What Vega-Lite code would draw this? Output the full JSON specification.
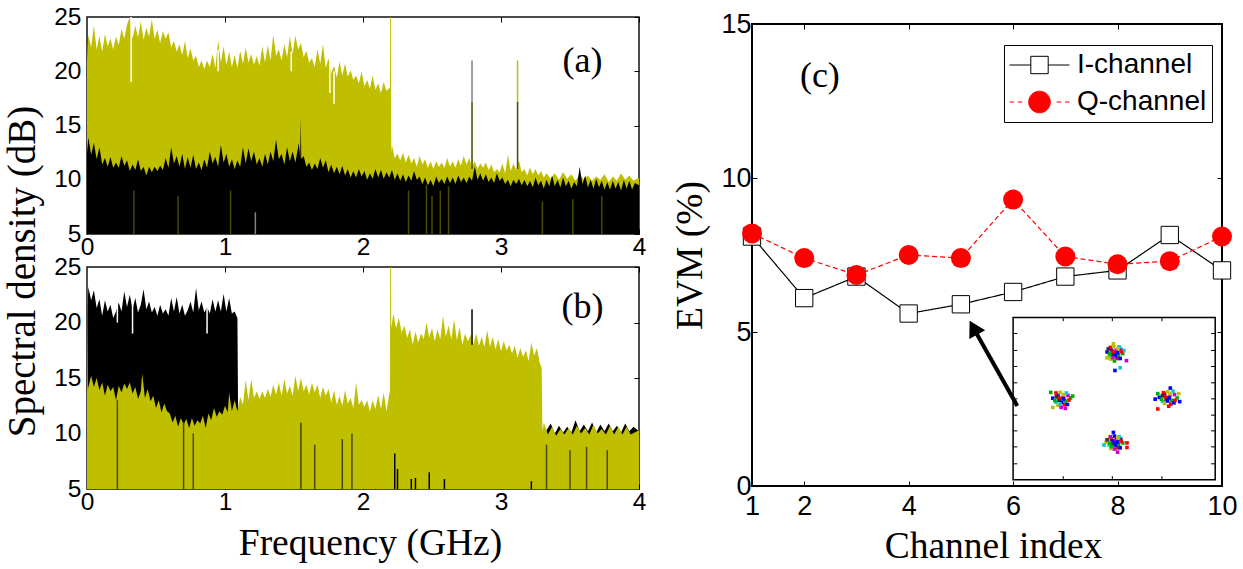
{"$schema":"https://vega.github.io/schema/vega-lite/v6.json","background":"white","padding":{"left":2,"top":3,"right":0,"bottom":0},"bounds":"flush","spacing":665,
"config":{"view":{"stroke":"#111","strokeWidth":1.5},"axis":{"grid":false,"domain":false,"tickColor":"black","labelFont":"Liberation Sans","labelFontSize":24.5,"labelColor":"black","labelFlush":false,"titleFont":"Liberation Serif","titleFontSize":37.5,"titleFontWeight":"normal","titleColor":"black"}},
"datasets":{
"ay":[{"f":0,"d":21},{"f":0.01,"d":23.4},{"f":0.03,"d":22.2},{"f":0.05,"d":24.2},{"f":0.07,"d":22},{"f":0.09,"d":23.2},{"f":0.11,"d":21.8},{"f":0.13,"d":23.4},{"f":0.15,"d":22.3},{"f":0.17,"d":23},{"f":0.19,"d":22},{"f":0.21,"d":23.2},{"f":0.23,"d":22.4},{"f":0.25,"d":23.9},{"f":0.27,"d":23},{"f":0.29,"d":24.3},{"f":0.31,"d":25},{"f":0.33,"d":23},{"f":0.35,"d":24.2},{"f":0.37,"d":23.1},{"f":0.39,"d":24.6},{"f":0.41,"d":22.9},{"f":0.43,"d":24},{"f":0.45,"d":23.2},{"f":0.47,"d":24.8},{"f":0.49,"d":23},{"f":0.51,"d":23.8},{"f":0.53,"d":22.6},{"f":0.55,"d":23.7},{"f":0.57,"d":23},{"f":0.59,"d":23.6},{"f":0.61,"d":22.2},{"f":0.63,"d":22.8},{"f":0.65,"d":21.8},{"f":0.67,"d":22.5},{"f":0.69,"d":21.5},{"f":0.71,"d":22.8},{"f":0.73,"d":21.2},{"f":0.75,"d":22.1},{"f":0.77,"d":21},{"f":0.79,"d":21.4},{"f":0.81,"d":20.4},{"f":0.83,"d":21},{"f":0.85,"d":20.2},{"f":0.87,"d":21},{"f":0.89,"d":20.4},{"f":0.91,"d":21.6},{"f":0.93,"d":20.3},{"f":0.95,"d":22.8},{"f":0.97,"d":20.8},{"f":0.99,"d":22.3},{"f":1.01,"d":20.6},{"f":1.03,"d":21.8},{"f":1.05,"d":20.4},{"f":1.07,"d":21.5},{"f":1.09,"d":20.3},{"f":1.11,"d":21.9},{"f":1.13,"d":20.7},{"f":1.15,"d":22.2},{"f":1.17,"d":20.8},{"f":1.19,"d":21.6},{"f":1.21,"d":20.6},{"f":1.23,"d":21.4},{"f":1.25,"d":20.5},{"f":1.27,"d":22.3},{"f":1.29,"d":20.8},{"f":1.31,"d":22.4},{"f":1.33,"d":21},{"f":1.35,"d":23.4},{"f":1.37,"d":21.4},{"f":1.39,"d":22},{"f":1.41,"d":21},{"f":1.43,"d":22.5},{"f":1.45,"d":21.3},{"f":1.47,"d":23.2},{"f":1.49,"d":21.6},{"f":1.51,"d":23.3},{"f":1.53,"d":22},{"f":1.55,"d":22.6},{"f":1.57,"d":21.3},{"f":1.59,"d":21.9},{"f":1.61,"d":20.8},{"f":1.63,"d":21.2},{"f":1.65,"d":20.4},{"f":1.67,"d":22},{"f":1.69,"d":20.7},{"f":1.71,"d":22.5},{"f":1.73,"d":20.3},{"f":1.75,"d":21.2},{"f":1.77,"d":19.8},{"f":1.79,"d":20.5},{"f":1.81,"d":19.4},{"f":1.83,"d":20.9},{"f":1.85,"d":19.6},{"f":1.87,"d":20.7},{"f":1.89,"d":19.5},{"f":1.91,"d":20.1},{"f":1.93,"d":19.2},{"f":1.95,"d":19.6},{"f":1.97,"d":18.9},{"f":1.99,"d":20},{"f":2.01,"d":18.6},{"f":2.03,"d":19.2},{"f":2.05,"d":18.4},{"f":2.07,"d":19.6},{"f":2.09,"d":18.3},{"f":2.11,"d":18.9},{"f":2.13,"d":18},{"f":2.15,"d":19},{"f":2.17,"d":18.2},{"f":2.195,"d":18.5},{"f":2.197,"d":25},{"f":2.203,"d":25},{"f":2.205,"d":12.5},{"f":2.21,"d":13.2},{"f":2.23,"d":12},{"f":2.25,"d":12.4},{"f":2.27,"d":11.8},{"f":2.29,"d":12.5},{"f":2.31,"d":11.6},{"f":2.33,"d":12.3},{"f":2.35,"d":11.5},{"f":2.37,"d":12},{"f":2.39,"d":11.2},{"f":2.41,"d":12.2},{"f":2.43,"d":11.4},{"f":2.45,"d":11.9},{"f":2.47,"d":11.1},{"f":2.49,"d":11.7},{"f":2.51,"d":11},{"f":2.53,"d":11.7},{"f":2.55,"d":11.2},{"f":2.57,"d":11.6},{"f":2.59,"d":11.1},{"f":2.61,"d":12},{"f":2.63,"d":11.2},{"f":2.65,"d":11.7},{"f":2.67,"d":11.1},{"f":2.69,"d":11.9},{"f":2.71,"d":11.3},{"f":2.73,"d":12.2},{"f":2.75,"d":11.4},{"f":2.77,"d":12},{"f":2.79,"d":11.2},{"f":2.81,"d":11.7},{"f":2.83,"d":11},{"f":2.85,"d":11.5},{"f":2.87,"d":11.1},{"f":2.89,"d":11.6},{"f":2.91,"d":10.9},{"f":2.93,"d":11.4},{"f":2.95,"d":10.7},{"f":2.97,"d":11},{"f":2.99,"d":10.7},{"f":3.01,"d":11.5},{"f":3.03,"d":10.6},{"f":3.05,"d":12.3},{"f":3.07,"d":10.8},{"f":3.09,"d":11.5},{"f":3.11,"d":10.9},{"f":3.13,"d":11.8},{"f":3.15,"d":10.7},{"f":3.17,"d":11},{"f":3.19,"d":10.4},{"f":3.21,"d":11.1},{"f":3.23,"d":10.5},{"f":3.25,"d":11},{"f":3.27,"d":10.4},{"f":3.29,"d":10.8},{"f":3.31,"d":10.2},{"f":3.33,"d":10.6},{"f":3.36,"d":10.1},{"f":3.39,"d":10.6},{"f":3.42,"d":10},{"f":3.45,"d":10.7},{"f":3.48,"d":10.1},{"f":3.51,"d":10.5},{"f":3.54,"d":9.9},{"f":3.57,"d":10.5},{"f":3.6,"d":10},{"f":3.63,"d":10.4},{"f":3.66,"d":9.9},{"f":3.69,"d":10.3},{"f":3.72,"d":10},{"f":3.75,"d":10.5},{"f":3.78,"d":9.8},{"f":3.81,"d":10.3},{"f":3.84,"d":9.9},{"f":3.87,"d":10.6},{"f":3.9,"d":10},{"f":3.93,"d":10.4},{"f":3.96,"d":9.9},{"f":4,"d":10.2}],
"ak":[{"f":0,"d":12.5},{"f":0.01,"d":13.9},{"f":0.03,"d":12.3},{"f":0.05,"d":13.4},{"f":0.07,"d":11.9},{"f":0.09,"d":13},{"f":0.11,"d":11.4},{"f":0.13,"d":12},{"f":0.15,"d":11.2},{"f":0.17,"d":12.1},{"f":0.19,"d":11.1},{"f":0.21,"d":11.6},{"f":0.23,"d":11.1},{"f":0.25,"d":12.2},{"f":0.27,"d":11.3},{"f":0.29,"d":11.8},{"f":0.31,"d":10.8},{"f":0.33,"d":11.4},{"f":0.35,"d":10.9},{"f":0.37,"d":11.9},{"f":0.39,"d":10.8},{"f":0.41,"d":11.2},{"f":0.43,"d":10.4},{"f":0.45,"d":11.2},{"f":0.47,"d":10.7},{"f":0.49,"d":11.2},{"f":0.51,"d":10.8},{"f":0.53,"d":11.3},{"f":0.55,"d":10.9},{"f":0.57,"d":12},{"f":0.59,"d":11.1},{"f":0.61,"d":13},{"f":0.63,"d":11.5},{"f":0.65,"d":12.2},{"f":0.67,"d":11.2},{"f":0.69,"d":12.4},{"f":0.71,"d":11},{"f":0.73,"d":12.1},{"f":0.75,"d":11.1},{"f":0.77,"d":12.3},{"f":0.79,"d":11},{"f":0.81,"d":11.6},{"f":0.83,"d":10.9},{"f":0.85,"d":11.9},{"f":0.87,"d":11.1},{"f":0.89,"d":12.6},{"f":0.91,"d":11.5},{"f":0.93,"d":12.1},{"f":0.95,"d":11.2},{"f":0.97,"d":13.2},{"f":0.99,"d":11.6},{"f":1.01,"d":12.4},{"f":1.03,"d":11.2},{"f":1.05,"d":11.9},{"f":1.07,"d":11},{"f":1.09,"d":11.8},{"f":1.11,"d":11.2},{"f":1.13,"d":13},{"f":1.15,"d":11.5},{"f":1.17,"d":12.9},{"f":1.19,"d":11.7},{"f":1.21,"d":12.6},{"f":1.23,"d":11.4},{"f":1.25,"d":12},{"f":1.27,"d":11.2},{"f":1.29,"d":12.4},{"f":1.31,"d":11.4},{"f":1.33,"d":12.6},{"f":1.35,"d":11.7},{"f":1.37,"d":13.7},{"f":1.39,"d":11.9},{"f":1.41,"d":12.4},{"f":1.43,"d":11.4},{"f":1.45,"d":13},{"f":1.47,"d":11.7},{"f":1.49,"d":12.6},{"f":1.51,"d":11.6},{"f":1.535,"d":13.4},{"f":1.545,"d":12},{"f":1.549,"d":15.7},{"f":1.553,"d":11.9},{"f":1.57,"d":12.2},{"f":1.59,"d":11.2},{"f":1.61,"d":11.6},{"f":1.63,"d":10.9},{"f":1.65,"d":11.5},{"f":1.67,"d":11},{"f":1.69,"d":12},{"f":1.71,"d":11.1},{"f":1.73,"d":11.8},{"f":1.75,"d":10.7},{"f":1.77,"d":11.4},{"f":1.79,"d":10.6},{"f":1.81,"d":11.2},{"f":1.83,"d":10.5},{"f":1.85,"d":11.3},{"f":1.87,"d":10.4},{"f":1.89,"d":11},{"f":1.91,"d":10.2},{"f":1.93,"d":10.8},{"f":1.95,"d":10.2},{"f":1.97,"d":11},{"f":1.99,"d":10.3},{"f":2.01,"d":10.8},{"f":2.03,"d":10},{"f":2.05,"d":10.6},{"f":2.07,"d":10.1},{"f":2.09,"d":11},{"f":2.11,"d":10.2},{"f":2.13,"d":10.9},{"f":2.15,"d":10.1},{"f":2.17,"d":10.7},{"f":2.19,"d":10.2},{"f":2.21,"d":10.9},{"f":2.23,"d":10},{"f":2.25,"d":10.6},{"f":2.27,"d":9.9},{"f":2.29,"d":10.5},{"f":2.31,"d":9.8},{"f":2.33,"d":10.4},{"f":2.35,"d":9.9},{"f":2.37,"d":10.8},{"f":2.39,"d":10},{"f":2.41,"d":10.3},{"f":2.43,"d":9.6},{"f":2.45,"d":10.2},{"f":2.47,"d":9.5},{"f":2.49,"d":10},{"f":2.51,"d":9.4},{"f":2.53,"d":10.3},{"f":2.55,"d":9.7},{"f":2.57,"d":10.1},{"f":2.59,"d":9.6},{"f":2.61,"d":10.3},{"f":2.63,"d":9.7},{"f":2.65,"d":10.2},{"f":2.67,"d":9.6},{"f":2.69,"d":10.4},{"f":2.71,"d":9.8},{"f":2.73,"d":10.2},{"f":2.75,"d":9.7},{"f":2.77,"d":10.3},{"f":2.79,"d":9.9},{"f":2.81,"d":11.2},{"f":2.83,"d":10},{"f":2.85,"d":10.6},{"f":2.87,"d":9.9},{"f":2.89,"d":10.5},{"f":2.91,"d":9.8},{"f":2.93,"d":10.2},{"f":2.95,"d":9.7},{"f":2.97,"d":10.6},{"f":2.99,"d":9.9},{"f":3.01,"d":10.2},{"f":3.03,"d":9.6},{"f":3.05,"d":10},{"f":3.07,"d":9.4},{"f":3.09,"d":10},{"f":3.11,"d":9.6},{"f":3.13,"d":10.1},{"f":3.15,"d":9.5},{"f":3.17,"d":10},{"f":3.19,"d":9.4},{"f":3.21,"d":9.9},{"f":3.23,"d":9.3},{"f":3.25,"d":10.2},{"f":3.27,"d":9.5},{"f":3.29,"d":9.9},{"f":3.31,"d":9.2},{"f":3.33,"d":10},{"f":3.35,"d":9.4},{"f":3.37,"d":10.4},{"f":3.39,"d":9.4},{"f":3.41,"d":10},{"f":3.43,"d":9.3},{"f":3.45,"d":10.2},{"f":3.47,"d":9.4},{"f":3.49,"d":9.9},{"f":3.51,"d":9.2},{"f":3.53,"d":9.8},{"f":3.55,"d":9.4},{"f":3.57,"d":11.2},{"f":3.59,"d":9.6},{"f":3.61,"d":10.4},{"f":3.63,"d":9.3},{"f":3.65,"d":10},{"f":3.67,"d":9.2},{"f":3.69,"d":10.1},{"f":3.71,"d":9.3},{"f":3.73,"d":9.9},{"f":3.75,"d":9.1},{"f":3.77,"d":9.8},{"f":3.79,"d":9.1},{"f":3.81,"d":9.9},{"f":3.83,"d":9.2},{"f":3.85,"d":9.8},{"f":3.87,"d":9},{"f":3.89,"d":10},{"f":3.91,"d":9.2},{"f":3.93,"d":9.9},{"f":3.95,"d":9.1},{"f":3.97,"d":9.7},{"f":4,"d":9.5}],
"an":[{"f":2.79,"d":11,"e":17.2,"c":"olive"},{"f":2.79,"d":17.2,"e":21,"c":"gray"},{"f":3.12,"d":11,"e":17.2,"c":"olive"},{"f":3.12,"d":17.2,"e":21,"c":"yellow"},{"f":0.34,"d":5,"e":9,"c":"olive"},{"f":0.66,"d":5,"e":8.5,"c":"olive"},{"f":1.04,"d":5,"e":9,"c":"olive"},{"f":1.22,"d":5,"e":7,"c":"gray"},{"f":2.46,"d":5,"e":9.5,"c":"olive"},{"f":2.5,"d":5,"e":8.5,"c":"olive"},{"f":2.56,"d":5,"e":9,"c":"olive"},{"f":2.62,"d":5,"e":9.4,"c":"olive"},{"f":2.33,"d":5,"e":9,"c":"olive"},{"f":3.3,"d":5,"e":8,"c":"olive"},{"f":3.52,"d":5,"e":8.2,"c":"olive"},{"f":3.73,"d":5,"e":8.5,"c":"olive"},{"f":0.32,"d":19,"e":25,"c":"white"},{"f":0.95,"d":20,"e":22,"c":"white"},{"f":1.48,"d":20,"e":21.8,"c":"white"},{"f":1.79,"d":17,"e":20,"c":"white"},{"f":1.76,"d":18,"e":21,"c":"white"}],
"bk":[{"f":0,"d":20},{"f":0.01,"d":23.2},{"f":0.03,"d":22},{"f":0.05,"d":22.9},{"f":0.07,"d":21.3},{"f":0.09,"d":22.1},{"f":0.11,"d":20.6},{"f":0.13,"d":22},{"f":0.15,"d":21},{"f":0.17,"d":21.6},{"f":0.19,"d":20.4},{"f":0.21,"d":21},{"f":0.23,"d":21.8},{"f":0.25,"d":21},{"f":0.27,"d":22.8},{"f":0.29,"d":21.4},{"f":0.31,"d":22.5},{"f":0.33,"d":21.2},{"f":0.35,"d":22.2},{"f":0.37,"d":20.9},{"f":0.39,"d":21.6},{"f":0.41,"d":23},{"f":0.43,"d":21.2},{"f":0.45,"d":21.9},{"f":0.47,"d":20.9},{"f":0.49,"d":21.4},{"f":0.51,"d":20.6},{"f":0.53,"d":21.6},{"f":0.55,"d":20.8},{"f":0.57,"d":21.2},{"f":0.59,"d":20.6},{"f":0.61,"d":22.2},{"f":0.63,"d":21},{"f":0.65,"d":22.3},{"f":0.67,"d":20.8},{"f":0.69,"d":21.6},{"f":0.71,"d":20.6},{"f":0.73,"d":21.1},{"f":0.75,"d":21.9},{"f":0.77,"d":20.9},{"f":0.79,"d":23.1},{"f":0.81,"d":21.1},{"f":0.83,"d":21.9},{"f":0.85,"d":20.9},{"f":0.87,"d":21.4},{"f":0.89,"d":20.8},{"f":0.91,"d":22.1},{"f":0.93,"d":21},{"f":0.95,"d":22},{"f":0.97,"d":21},{"f":0.99,"d":22.6},{"f":1.01,"d":21},{"f":1.03,"d":22.2},{"f":1.05,"d":20.8},{"f":1.07,"d":21},{"f":1.09,"d":20.4},{"f":1.095,"d":11.5},{"f":1.12,"d":10},{"f":2.2,"d":8},{"f":3.3,"d":9},{"f":3.33,"d":10.3},{"f":3.36,"d":10.9},{"f":3.39,"d":10},{"f":3.42,"d":10.7},{"f":3.45,"d":10.1},{"f":3.48,"d":10.6},{"f":3.51,"d":10.1},{"f":3.54,"d":11.2},{"f":3.57,"d":10.2},{"f":3.6,"d":10.8},{"f":3.63,"d":10.2},{"f":3.66,"d":11},{"f":3.69,"d":10.1},{"f":3.72,"d":10.8},{"f":3.75,"d":10.2},{"f":3.78,"d":10.9},{"f":3.81,"d":10.2},{"f":3.84,"d":10.7},{"f":3.87,"d":10.1},{"f":3.9,"d":10.9},{"f":3.93,"d":10.2},{"f":3.96,"d":10.6},{"f":4,"d":10.2}],
"by":[{"f":0,"d":14},{"f":0.002,"d":25},{"f":0.006,"d":14},{"f":0.03,"d":15.2},{"f":0.05,"d":14.2},{"f":0.07,"d":15},{"f":0.09,"d":13.9},{"f":0.11,"d":14.6},{"f":0.13,"d":13.4},{"f":0.15,"d":14.4},{"f":0.17,"d":13.8},{"f":0.19,"d":14.2},{"f":0.21,"d":13},{"f":0.23,"d":14.3},{"f":0.25,"d":13.7},{"f":0.27,"d":14.5},{"f":0.29,"d":14},{"f":0.31,"d":14.6},{"f":0.33,"d":13.6},{"f":0.35,"d":14.2},{"f":0.37,"d":13.1},{"f":0.39,"d":13.8},{"f":0.4,"d":15.4},{"f":0.42,"d":13.2},{"f":0.44,"d":14},{"f":0.46,"d":12.9},{"f":0.48,"d":13.4},{"f":0.5,"d":12.3},{"f":0.52,"d":13},{"f":0.54,"d":11.9},{"f":0.56,"d":12.7},{"f":0.58,"d":12},{"f":0.6,"d":11.8},{"f":0.62,"d":11},{"f":0.64,"d":11.6},{"f":0.66,"d":10.6},{"f":0.68,"d":11.4},{"f":0.7,"d":10.8},{"f":0.72,"d":11.3},{"f":0.74,"d":10.5},{"f":0.76,"d":11.4},{"f":0.78,"d":10.7},{"f":0.8,"d":11.2},{"f":0.82,"d":10.9},{"f":0.84,"d":11.6},{"f":0.86,"d":10.5},{"f":0.88,"d":11.8},{"f":0.9,"d":11.2},{"f":0.92,"d":12.3},{"f":0.94,"d":11.5},{"f":0.96,"d":12},{"f":0.98,"d":11.7},{"f":1,"d":12.5},{"f":1.02,"d":11.9},{"f":1.03,"d":13.7},{"f":1.05,"d":12},{"f":1.07,"d":13},{"f":1.09,"d":12},{"f":1.11,"d":13.3},{"f":1.13,"d":12.6},{"f":1.15,"d":14.8},{"f":1.17,"d":13},{"f":1.19,"d":14.9},{"f":1.21,"d":13.2},{"f":1.23,"d":13.8},{"f":1.25,"d":13.1},{"f":1.27,"d":13.8},{"f":1.29,"d":13.2},{"f":1.31,"d":14},{"f":1.33,"d":13.3},{"f":1.35,"d":14.4},{"f":1.37,"d":13.5},{"f":1.39,"d":14.6},{"f":1.41,"d":13.4},{"f":1.43,"d":14.9},{"f":1.45,"d":13.6},{"f":1.47,"d":14.3},{"f":1.49,"d":13.4},{"f":1.51,"d":15.2},{"f":1.53,"d":13.8},{"f":1.55,"d":15},{"f":1.57,"d":13.8},{"f":1.59,"d":14.4},{"f":1.61,"d":13.5},{"f":1.63,"d":14.6},{"f":1.65,"d":13.7},{"f":1.67,"d":14.4},{"f":1.69,"d":13.2},{"f":1.71,"d":14.2},{"f":1.73,"d":13.4},{"f":1.75,"d":14},{"f":1.77,"d":12.8},{"f":1.79,"d":13.9},{"f":1.81,"d":12.6},{"f":1.83,"d":13.4},{"f":1.85,"d":12.5},{"f":1.87,"d":13.9},{"f":1.89,"d":12.7},{"f":1.91,"d":13.2},{"f":1.93,"d":12.3},{"f":1.95,"d":14.6},{"f":1.97,"d":12.6},{"f":1.99,"d":13},{"f":2.01,"d":12.4},{"f":2.03,"d":13},{"f":2.05,"d":12},{"f":2.07,"d":13},{"f":2.09,"d":12.2},{"f":2.11,"d":13.5},{"f":2.13,"d":12.2},{"f":2.15,"d":13.7},{"f":2.17,"d":12},{"f":2.195,"d":13.9},{"f":2.197,"d":25},{"f":2.203,"d":25},{"f":2.205,"d":19.5},{"f":2.22,"d":20.8},{"f":2.24,"d":19.5},{"f":2.26,"d":20.4},{"f":2.28,"d":19.1},{"f":2.3,"d":19.7},{"f":2.32,"d":18.6},{"f":2.34,"d":19.4},{"f":2.36,"d":18},{"f":2.38,"d":19.2},{"f":2.4,"d":18.2},{"f":2.42,"d":19},{"f":2.44,"d":18.5},{"f":2.46,"d":20},{"f":2.48,"d":18.6},{"f":2.5,"d":19.5},{"f":2.52,"d":18.3},{"f":2.54,"d":19.4},{"f":2.56,"d":18.5},{"f":2.58,"d":20.6},{"f":2.6,"d":18.7},{"f":2.62,"d":19.7},{"f":2.64,"d":18.5},{"f":2.66,"d":20.3},{"f":2.68,"d":18.4},{"f":2.7,"d":19.6},{"f":2.72,"d":18},{"f":2.74,"d":19},{"f":2.76,"d":18.3},{"f":2.78,"d":18.9},{"f":2.8,"d":18},{"f":2.82,"d":19},{"f":2.84,"d":17.9},{"f":2.86,"d":18.7},{"f":2.88,"d":17.8},{"f":2.9,"d":19.3},{"f":2.92,"d":17.8},{"f":2.94,"d":18.7},{"f":2.96,"d":17.6},{"f":2.98,"d":18.5},{"f":3,"d":17.4},{"f":3.02,"d":18.3},{"f":3.04,"d":17.5},{"f":3.06,"d":18},{"f":3.08,"d":17.2},{"f":3.1,"d":17.9},{"f":3.12,"d":16.8},{"f":3.14,"d":17.7},{"f":3.16,"d":16.9},{"f":3.18,"d":17.5},{"f":3.2,"d":16.5},{"f":3.22,"d":18.2},{"f":3.24,"d":17},{"f":3.26,"d":17.7},{"f":3.28,"d":16.4},{"f":3.295,"d":15.9},{"f":3.3,"d":10.2},{"f":3.31,"d":11},{"f":3.34,"d":9.9},{"f":3.37,"d":10.6},{"f":3.4,"d":9.8},{"f":3.43,"d":10.4},{"f":3.46,"d":9.9},{"f":3.49,"d":10.5},{"f":3.52,"d":9.9},{"f":3.55,"d":10.7},{"f":3.58,"d":10},{"f":3.61,"d":10.5},{"f":3.64,"d":9.9},{"f":3.67,"d":10.8},{"f":3.7,"d":10},{"f":3.73,"d":10.4},{"f":3.76,"d":9.9},{"f":3.79,"d":10.7},{"f":3.82,"d":9.9},{"f":3.85,"d":10.6},{"f":3.88,"d":9.9},{"f":3.91,"d":10.6},{"f":3.94,"d":9.9},{"f":4,"d":10.3}],
"bn":[{"f":2.79,"d":18,"e":21.2,"c":"black"},{"f":2.23,"d":5,"e":8.2,"c":"black"},{"f":2.25,"d":5,"e":6.8,"c":"black"},{"f":2.35,"d":5,"e":5.9,"c":"black"},{"f":2.38,"d":5,"e":6,"c":"black"},{"f":2.48,"d":5,"e":6.5,"c":"black"},{"f":2.59,"d":5,"e":5.9,"c":"black"},{"f":3.22,"d":5,"e":5.7,"c":"black"},{"f":0.22,"d":5,"e":13,"c":"olive"},{"f":0.7,"d":5,"e":11,"c":"olive"},{"f":0.77,"d":5,"e":10,"c":"olive"},{"f":1.55,"d":5,"e":11,"c":"olive"},{"f":1.65,"d":5,"e":9,"c":"olive"},{"f":1.85,"d":5,"e":9.5,"c":"olive"},{"f":1.92,"d":5,"e":10,"c":"olive"},{"f":3.33,"d":5,"e":9,"c":"olive"},{"f":3.5,"d":5,"e":8.5,"c":"olive"},{"f":3.62,"d":5,"e":8.8,"c":"olive"},{"f":3.77,"d":5,"e":8.5,"c":"olive"},{"f":0.33,"d":19,"e":22,"c":"white"},{"f":0.22,"d":20,"e":22,"c":"white"},{"f":0.87,"d":19,"e":22,"c":"white"}],
"evm":[{"ch":"I-channel","x":1,"y":8.1},{"ch":"I-channel","x":2,"y":6.1},{"ch":"I-channel","x":3,"y":6.8},{"ch":"I-channel","x":4,"y":5.6},{"ch":"I-channel","x":5,"y":5.9},{"ch":"I-channel","x":6,"y":6.3},{"ch":"I-channel","x":7,"y":6.8},{"ch":"I-channel","x":8,"y":7},{"ch":"I-channel","x":9,"y":8.15},{"ch":"I-channel","x":10,"y":7},{"ch":"Q-channel","x":1,"y":8.2},{"ch":"Q-channel","x":2,"y":7.4},{"ch":"Q-channel","x":3,"y":6.85},{"ch":"Q-channel","x":4,"y":7.5},{"ch":"Q-channel","x":5,"y":7.4},{"ch":"Q-channel","x":6,"y":9.3},{"ch":"Q-channel","x":7,"y":7.45},{"ch":"Q-channel","x":8,"y":7.2},{"ch":"Q-channel","x":9,"y":7.3},{"ch":"Q-channel","x":10,"y":8.1}],
"frame":[{"x":6,"x2":9.87,"y":0.2,"y2":5.47}],
"iticks":[{"x":6.96,"x2":6.96,"y":0.2,"y2":0.32},{"x":7.9,"x2":7.9,"y":0.2,"y2":0.32},{"x":8.85,"x2":8.85,"y":0.2,"y2":0.32},{"x":6.96,"x2":6.96,"y":5.35,"y2":5.47},{"x":7.9,"x2":7.9,"y":5.35,"y2":5.47},{"x":8.85,"x2":8.85,"y":5.35,"y2":5.47},{"x":6,"x2":6.08,"y":0.72,"y2":0.72},{"x":6,"x2":6.08,"y":1.27,"y2":1.27},{"x":6,"x2":6.08,"y":1.79,"y2":1.79},{"x":6,"x2":6.08,"y":2.3,"y2":2.3},{"x":6,"x2":6.08,"y":2.83,"y2":2.83},{"x":6,"x2":6.08,"y":3.35,"y2":3.35},{"x":6,"x2":6.08,"y":3.88,"y2":3.88},{"x":6,"x2":6.08,"y":4.4,"y2":4.4},{"x":6,"x2":6.08,"y":4.95,"y2":4.95},{"x":9.79,"x2":9.87,"y":0.72,"y2":0.72},{"x":9.79,"x2":9.87,"y":1.27,"y2":1.27},{"x":9.79,"x2":9.87,"y":1.79,"y2":1.79},{"x":9.79,"x2":9.87,"y":2.3,"y2":2.3},{"x":9.79,"x2":9.87,"y":2.83,"y2":2.83},{"x":9.79,"x2":9.87,"y":3.35,"y2":3.35},{"x":9.79,"x2":9.87,"y":3.88,"y2":3.88},{"x":9.79,"x2":9.87,"y":4.4,"y2":4.4},{"x":9.79,"x2":9.87,"y":4.95,"y2":4.95}],
"pts":[{"x":7.95,"y":4.33,"g":"a"},{"x":7.88,"y":4.42,"g":"b"},{"x":8.02,"y":4.25,"g":"c"},{"x":7.84,"y":4.21,"g":"d"},{"x":8.06,"y":4.44,"g":"e"},{"x":7.93,"y":4.52,"g":"f"},{"x":7.99,"y":4.14,"g":"a"},{"x":7.8,"y":4.35,"g":"b"},{"x":8.1,"y":4.3,"g":"c"},{"x":7.91,"y":4.28,"g":"g"},{"x":7.86,"y":4.5,"g":"a"},{"x":8.03,"y":4.52,"g":"d"},{"x":7.97,"y":4.4,"g":"e"},{"x":7.87,"y":4.12,"g":"f"},{"x":8.05,"y":4.14,"g":"b"},{"x":7.94,"y":4.06,"g":"c"},{"x":7.92,"y":4.62,"g":"f"},{"x":7.82,"y":4.45,"g":"g"},{"x":8.12,"y":4.4,"g":"d"},{"x":8.0,"y":4.33,"g":"b"},{"x":7.9,"y":4.37,"g":"a"},{"x":7.96,"y":4.23,"g":"b"},{"x":7.85,"y":4.29,"g":"c"},{"x":8.07,"y":4.36,"g":"a"},{"x":8.01,"y":4.46,"g":"f"},{"x":7.8,"y":4.16,"g":"f"},{"x":7.91,"y":4.17,"g":"e"},{"x":8.17,"y":4.07,"g":"e"},{"x":8.05,"y":3.84,"g":"d"},{"x":7.95,"y":3.75,"g":"b"},{"x":6.93,"y":2.84,"g":"a"},{"x":6.86,"y":2.95,"g":"b"},{"x":7,"y":2.76,"g":"c"},{"x":6.82,"y":2.72,"g":"d"},{"x":7.05,"y":2.94,"g":"e"},{"x":6.9,"y":3.04,"g":"f"},{"x":6.98,"y":2.64,"g":"a"},{"x":6.76,"y":2.85,"g":"b"},{"x":7.1,"y":2.86,"g":"c"},{"x":6.88,"y":2.78,"g":"g"},{"x":6.82,"y":3.02,"g":"a"},{"x":7.02,"y":3.02,"g":"d"},{"x":6.96,"y":2.9,"g":"e"},{"x":6.86,"y":2.62,"g":"f"},{"x":7.04,"y":2.65,"g":"b"},{"x":6.92,"y":2.55,"g":"e"},{"x":6.72,"y":3.04,"g":"c"},{"x":6.76,"y":2.55,"g":"f"},{"x":7.14,"y":2.92,"g":"c"},{"x":6.97,"y":2.83,"g":"b"},{"x":6.87,"y":2.88,"g":"a"},{"x":6.93,"y":2.72,"g":"b"},{"x":6.8,"y":2.78,"g":"c"},{"x":7.07,"y":2.79,"g":"a"},{"x":6.97,"y":2.97,"g":"f"},{"x":7.0,"y":2.52,"g":"e"},{"x":6.83,"y":2.9,"g":"g"},{"x":6.9,"y":2.66,"g":"d"},{"x":8.97,"y":2.87,"g":"a"},{"x":8.9,"y":2.98,"g":"b"},{"x":9.04,"y":2.78,"g":"c"},{"x":8.86,"y":2.75,"g":"d"},{"x":9.09,"y":2.97,"g":"e"},{"x":8.96,"y":3.06,"g":"f"},{"x":9.02,"y":2.66,"g":"a"},{"x":8.8,"y":2.88,"g":"b"},{"x":9.14,"y":2.86,"g":"c"},{"x":8.93,"y":2.8,"g":"g"},{"x":8.88,"y":3.03,"g":"a"},{"x":9.06,"y":3.08,"g":"d"},{"x":9,"y":2.93,"g":"e"},{"x":8.9,"y":2.68,"g":"f"},{"x":9.08,"y":2.7,"g":"b"},{"x":8.98,"y":2.59,"g":"a"},{"x":8.72,"y":2.82,"g":"b"},{"x":8.77,"y":3,"g":"c"},{"x":9.19,"y":2.74,"g":"b"},{"x":8.77,"y":2.5,"g":"a"},{"x":9.01,"y":3.18,"g":"b"},{"x":8.99,"y":2.86,"g":"b"},{"x":8.91,"y":2.9,"g":"a"},{"x":8.96,"y":2.76,"g":"b"},{"x":8.84,"y":2.82,"g":"c"},{"x":9.1,"y":2.78,"g":"a"},{"x":9,"y":3,"g":"f"},{"x":9.17,"y":3,"g":"f"},{"x":8.86,"y":2.94,"g":"g"},{"x":7.95,"y":1.43,"g":"b"},{"x":7.88,"y":1.52,"g":"a"},{"x":8.02,"y":1.35,"g":"c"},{"x":7.84,"y":1.33,"g":"d"},{"x":8.06,"y":1.52,"g":"b"},{"x":7.94,"y":1.62,"g":"b"},{"x":7.99,"y":1.24,"g":"a"},{"x":7.78,"y":1.42,"g":"f"},{"x":8.1,"y":1.4,"g":"c"},{"x":7.91,"y":1.36,"g":"g"},{"x":7.86,"y":1.6,"g":"e"},{"x":8.03,"y":1.6,"g":"d"},{"x":7.97,"y":1.5,"g":"e"},{"x":7.87,"y":1.22,"g":"f"},{"x":8.05,"y":1.24,"g":"b"},{"x":7.94,"y":1.2,"g":"e"},{"x":7.92,"y":1.74,"g":"b"},{"x":7.74,"y":1.33,"g":"d"},{"x":8.18,"y":1.25,"g":"a"},{"x":8.18,"y":1.4,"g":"a"},{"x":8.0,"y":1.43,"g":"b"},{"x":7.9,"y":1.47,"g":"b"},{"x":7.96,"y":1.33,"g":"b"},{"x":7.85,"y":1.39,"g":"c"},{"x":8.07,"y":1.46,"g":"a"},{"x":8.01,"y":1.56,"g":"f"},{"x":8.0,"y":1.1,"g":"e"},{"x":7.8,"y":1.5,"g":"g"},{"x":7.89,"y":1.28,"g":"c"}],
"arrow":[{"x":6.08,"y":2.6},{"x":5.3,"y":4.95}],
"head":[{"x":5.24,"y":5.14}]},
"hconcat":[
{"vconcat":[
{"width":552,"height":217,"encoding":{"x":{"field":"f","type":"quantitative","scale":{"domain":[0,4]},"axis":null},"y":{"field":"d","type":"quantitative","scale":{"domain":[5,25]},"axis":null}},
"resolve":{"axis":{"x":"independent","y":"independent"}},
"layer":[
{"data":{"name":"ay"},"mark":{"type":"area","color":"#BFBF00","interpolate":"linear"},"encoding":{"y2":{"datum":5}}},
{"data":{"name":"ak"},"mark":{"type":"area","color":"#000000","interpolate":"linear"},"encoding":{"y2":{"datum":5}}},
{"data":{"name":"an"},"mark":{"type":"rule","strokeWidth":1.5},"encoding":{"y2":{"field":"e"},"color":{"field":"c","type":"nominal","legend":null,"scale":{"domain":["olive","gray","yellow","white","black"],"range":["#4A4A00","#808080","#BFBF00","#FFFFFF","#000000"]}}}},
{"data":{"values":[{"f":3.59,"d":20.9,"t":"(a)"}]},"mark":{"type":"text","font":"Liberation Serif","fontSize":36,"color":"black"},"encoding":{"text":{"field":"t"},"x":{"field":"f","type":"quantitative","scale":{"domain":[0,4]},"axis":{"orient":"bottom","values":[0,1,2,3,4],"format":"d","tickSize":-5,"labelPadding":6,"title":null}},"y":{"field":"d","type":"quantitative","scale":{"domain":[5,25]},"axis":{"orient":"left","values":[5,10,15,20,25],"tickSize":0,"labelPadding":6,"title":"Spectral density (dB)","titleFontSize":39,"titleY":254,"titleX":-45}}}},
{"data":{"values":[{"f":3.59,"d":20.9}]},"mark":{"type":"point","opacity":0},"encoding":{"x":{"field":"f","type":"quantitative","scale":{"domain":[0,4]},"axis":{"orient":"top","values":[1,2,3,4],"tickSize":-5,"labels":false,"title":null}},"y":{"field":"d","type":"quantitative","scale":{"domain":[5,25]},"axis":{"orient":"right","values":[5,10,15,20,25],"tickSize":-5,"labels":false,"title":null}}}}
]},
{"width":552,"height":222,"encoding":{"x":{"field":"f","type":"quantitative","scale":{"domain":[0,4]},"axis":null},"y":{"field":"d","type":"quantitative","scale":{"domain":[5,25]},"axis":null}},
"resolve":{"axis":{"x":"independent","y":"independent"}},
"layer":[
{"data":{"name":"bk"},"mark":{"type":"area","color":"#000000","interpolate":"linear"},"encoding":{"y2":{"datum":5}}},
{"data":{"name":"by"},"mark":{"type":"area","color":"#BFBF00","interpolate":"linear"},"encoding":{"y2":{"datum":5}}},
{"data":{"name":"bn"},"mark":{"type":"rule","strokeWidth":1.5},"encoding":{"y2":{"field":"e"},"color":{"field":"c","type":"nominal","legend":null,"scale":{"domain":["olive","white","black"],"range":["#8A8A00","#FFFFFF","#000000"]}}}},
{"data":{"values":[{"f":3.59,"d":21.4,"t":"(b)"}]},"mark":{"type":"text","font":"Liberation Serif","fontSize":36,"color":"black"},"encoding":{"text":{"field":"t"},"x":{"field":"f","type":"quantitative","scale":{"domain":[0,4]},"axis":{"orient":"bottom","values":[0,1,2,3,4],"format":"d","tickSize":-5,"labelPadding":6,"title":"Frequency (GHz)","titlePadding":11,"titleX":283}},"y":{"field":"d","type":"quantitative","scale":{"domain":[5,25]},"axis":{"orient":"left","values":[5,10,15,20,25],"tickSize":0,"labelPadding":6,"title":null}}}},
{"data":{"values":[{"f":3.59,"d":21.4}]},"mark":{"type":"point","opacity":0},"encoding":{"x":{"field":"f","type":"quantitative","scale":{"domain":[0,4]},"axis":{"orient":"top","values":[1,2,3,4],"tickSize":-5,"labels":false,"title":null}},"y":{"field":"d","type":"quantitative","scale":{"domain":[5,25]},"axis":{"orient":"right","values":[10,15,20,25],"tickSize":-5,"labels":false,"title":null}}}}
]}
],"spacing":33,"bounds":"flush"},
{"vconcat":[
{"width":470,"height":1,"view":{"stroke":null},"data":{"values":[{"a":1}]},"mark":{"type":"point","opacity":0},"encoding":{}},
{"width":470,"height":462,"view":{"stroke":"black","strokeWidth":2},
"encoding":{"x":{"field":"x","type":"quantitative","scale":{"domain":[1,10]},"axis":null},"y":{"field":"y","type":"quantitative","scale":{"domain":[0,15]},"axis":null}},
"resolve":{"axis":{"x":"independent","y":"independent"},"scale":{"shape":"independent","color":"independent","fill":"independent","stroke":"independent"}},
"layer":[
{"data":{"name":"evm"},"mark":{"type":"line","strokeWidth":1.2},"encoding":{"color":{"field":"ch","type":"nominal","legend":null,"scale":{"domain":["I-channel","Q-channel"],"range":["#000000","#FF0000"]}},"strokeDash":{"field":"ch","type":"nominal","legend":null,"scale":{"domain":["I-channel","Q-channel"],"range":[[1,0],[5,3]]}}}},
{"data":{"name":"evm"},"transform":[{"filter":"datum.ch==='I-channel'"}],"mark":{"type":"square","size":300,"fill":"white","stroke":"black","strokeWidth":1,"opacity":1,"clip":false}},
{"data":{"name":"evm"},"transform":[{"filter":"datum.ch==='Q-channel'"}],"mark":{"type":"circle","size":400,"color":"#FF0000","opacity":1,"clip":false}},
{"data":{"name":"frame"},"mark":{"type":"rect","fill":"white","stroke":"black","strokeWidth":1.5},"encoding":{"x2":{"field":"x2"},"y2":{"field":"y2"}}},
{"data":{"name":"iticks"},"mark":{"type":"rule","color":"black","strokeWidth":1},"encoding":{"x2":{"field":"x2"},"y2":{"field":"y2"}}},
{"data":{"name":"pts"},"mark":{"type":"square","size":13,"opacity":1},"encoding":{"color":{"field":"g","type":"nominal","legend":null,"scale":{"domain":["a","b","c","d","e","f","g"],"range":["#FF0000","#0000FF","#00AA00","#00CCCC","#CC00CC","#BFBF00","#333333"]}}}},
{"data":{"name":"arrow"},"mark":{"type":"line","strokeWidth":4},"encoding":{"color":{"value":"black"}}},
{"data":{"name":"head"},"mark":{"type":"point","shape":"triangle-up","filled":true,"size":330,"angle":-29,"color":"black","opacity":1}},
{"data":{"values":[{"x":2.3,"y":13.3,"t":"(c)"}]},"mark":{"type":"text","font":"Liberation Serif","fontSize":36,"color":"black"},"encoding":{"text":{"field":"t"},"x":{"field":"x","type":"quantitative","scale":{"domain":[1,10]},"axis":{"orient":"bottom","values":[1,2,4,6,8,10],"tickSize":-5,"labelPadding":12,"labelFontSize":27,"title":"Channel index","titlePadding":8,"titleX":241}},"y":{"field":"y","type":"quantitative","scale":{"domain":[0,15]},"axis":{"orient":"left","values":[0,5,10,15],"tickSize":-5,"labelPadding":6,"labelFontSize":27,"title":"EVM (%)","titlePadding":11}}}},
{"data":{"name":"evm"},"mark":{"type":"point","size":0,"opacity":0},"encoding":{"x":{"field":"x","type":"quantitative","scale":{"domain":[1,10]},"axis":{"orient":"top","values":[2,4,6,8],"tickSize":-5,"labels":false,"title":null}},"y":{"field":"y","type":"quantitative","scale":{"domain":[0,15]},"axis":{"orient":"right","values":[5,10],"tickSize":-5,"labels":false,"title":null}}}},
{"data":{"name":"evm"},"mark":{"type":"point","size":0,"filled":true,"opacity":1},"encoding":{"fill":{"field":"ch","type":"nominal","scale":{"domain":["I-channel","Q-channel"],"range":["#FFFFFF","#FF0000"]},"legend":{"title":null}},"stroke":{"field":"ch","type":"nominal","scale":{"domain":["I-channel","Q-channel"],"range":["#000000","#FF0000"]},"legend":{"title":null}},"shape":{"field":"ch","type":"nominal","scale":{"domain":["I-channel","Q-channel"],"range":["M-1,0H-0.29M0.29,0H1M-0.29,-0.29H0.29V0.29H-0.29Z","M-1,0H-0.85M-0.72,0H-0.57M0.36,0A0.36,0.36 0 1 0 -0.36,0A0.36,0.36 0 1 0 0.36,0ZM0.57,0H0.72M0.85,0H1"]},"legend":{"title":null,"orient":"none","legendX":252,"legendY":21,"fillColor":"white","strokeColor":"black","padding":5,"labelFont":"Liberation Sans","labelFontSize":28,"labelColor":"black","labelOffset":7,"symbolSize":3600,"clipHeight":30,"rowPadding":7,"symbolStrokeWidth":1,"symbolOpacity":1}}}}
]}
],"spacing":6,"bounds":"flush"}
]}
